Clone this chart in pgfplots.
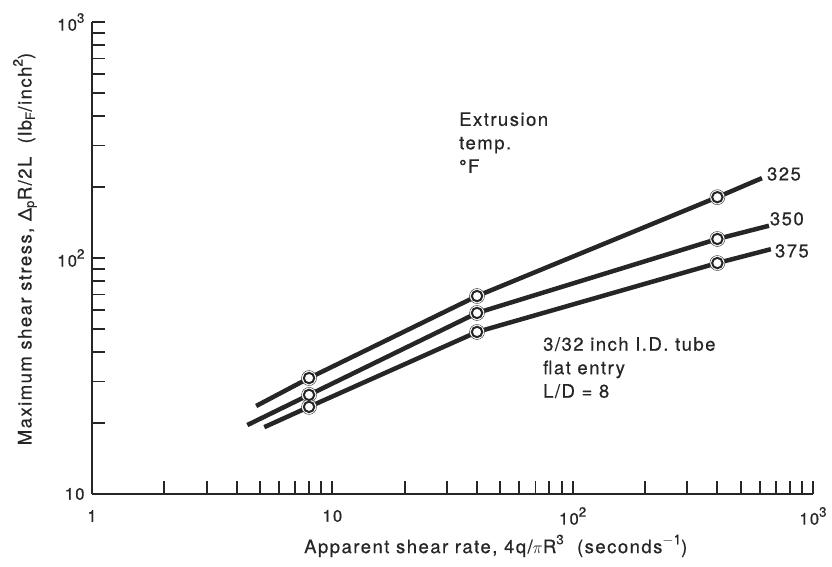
\documentclass[border=0pt]{standalone}
\usepackage{pgfplots}
\pgfplotsset{compat=1.18}
\usepackage{fontspec}
\setmainfont[LetterSpace=8, FakeBold=0.6]{TeX Gyre Heros}
\definecolor{ink}{HTML}{262626}
\newcommand{\sups}[1]{\raisebox{0.48em}{\fontsize{13.5pt}{13.5pt}\selectfont #1}}
\begin{document}
\begin{tikzpicture}[font=\fontsize{18.5pt}{23.5pt}\selectfont, color=ink]
\begin{axis}[name=ax, xmode=log, ymode=log, scale only axis,
  width=721pt, height=472pt,
  xmin=1, xmax=1000, ymin=10, ymax=1000,
  axis lines*=left,
  axis line style={line width=2.2pt, ink},
  tick align=inside, major tick length=13pt, minor tick length=13pt,
  every tick/.style={line width=1.8pt, ink},
  xtick={1,10,100,1000},
  xticklabels={1,10,10\sups{2},10\sups{3}},
  minor xtick={2,3,4,5,6,7,8,9,20,30,40,50,60,70,80,90,200,300,400,500,600,700,800,900},
  ytick={10,100,1000},
  yticklabels={10,10\sups{2},10\sups{3}},
  minor ytick={20,30,40,50,60,70,80,90,200,300,400,500,600,700,800,900},
  tick label style={font=\fontsize{16.5pt}{18pt}\selectfont},
  xticklabel style={anchor=center, yshift=-22pt, text=ink},
  yticklabel style={xshift=-4pt, text=ink},
  xlabel={Apparent shear rate, 4q/$\pi$R\sups{3}\ \ (seconds\sups{$-$1})},
  x label style={at={(axis description cs:0.56,-0.11)}, anchor=center, text=ink},
  ylabel={Maximum shear stress, Δ\textsubscript{p}R/2L\ \ (lb\textsubscript{F}/inch\sups{2})},
  y label style={at={(axis description cs:-0.093,0.519)}, anchor=center, rotate=0, text=ink},
  clip=false,
]
% lines
\addplot[line width=4.5pt, ink] coordinates {(4.82,23.6) (8,31.0) (40,69.0) (400,181) (613,218)};
\addplot[line width=4.5pt, ink] coordinates {(4.43,19.6) (8,26.3) (40,58.5) (400,120.4) (656,137)};
\addplot[line width=4.5pt, ink] coordinates {(5.21,19.2) (8,23.4) (40,48.6) (400,95.2) (668,109)};
% white halos
\addplot[only marks, mark=*, mark size=7.5pt, mark options={draw=none, fill=white}] coordinates {(8,31.0) (40,69.0) (400,181)};
\addplot[only marks, mark=*, mark size=7.5pt, mark options={draw=none, fill=white}] coordinates {(8,26.3) (40,58.5) (400,120.4)};
\addplot[only marks, mark=*, mark size=7.5pt, mark options={draw=none, fill=white}] coordinates {(8,23.4) (40,48.6) (400,95.2)};
% circles
\addplot[only marks, mark=*, mark size=5.2pt, mark options={line width=2pt, draw=ink, fill=white}] coordinates {(8,31.0) (40,69.0) (400,181)};
\addplot[only marks, mark=*, mark size=5.2pt, mark options={line width=2pt, draw=ink, fill=white}] coordinates {(8,26.3) (40,58.5) (400,120.4)};
\addplot[only marks, mark=*, mark size=5.2pt, mark options={line width=2pt, draw=ink, fill=white}] coordinates {(8,23.4) (40,48.6) (400,95.2)};
% text
\node[anchor=west, inner sep=0pt] at (axis description cs:0.936,0.678) {325};
\node[anchor=west, inner sep=0pt] at (axis description cs:0.940,0.583) {350};
\node[anchor=west, inner sep=0pt] at (axis description cs:0.947,0.515) {375};
\node[anchor=north west, inner sep=0pt, align=left] at (axis description cs:0.509,0.809) {Extrusion\\temp.\\°F};
\node[anchor=north west, inner sep=0pt, align=left] at (axis description cs:0.6255,0.3326) {3/32 inch I.D. tube\\flat entry\\L/D = 8};
\end{axis}
\pgfresetboundingbox
\path (ax.south west) ++(-92pt,-72pt) rectangle ++(832pt,566pt);
\end{tikzpicture}
\end{document}
